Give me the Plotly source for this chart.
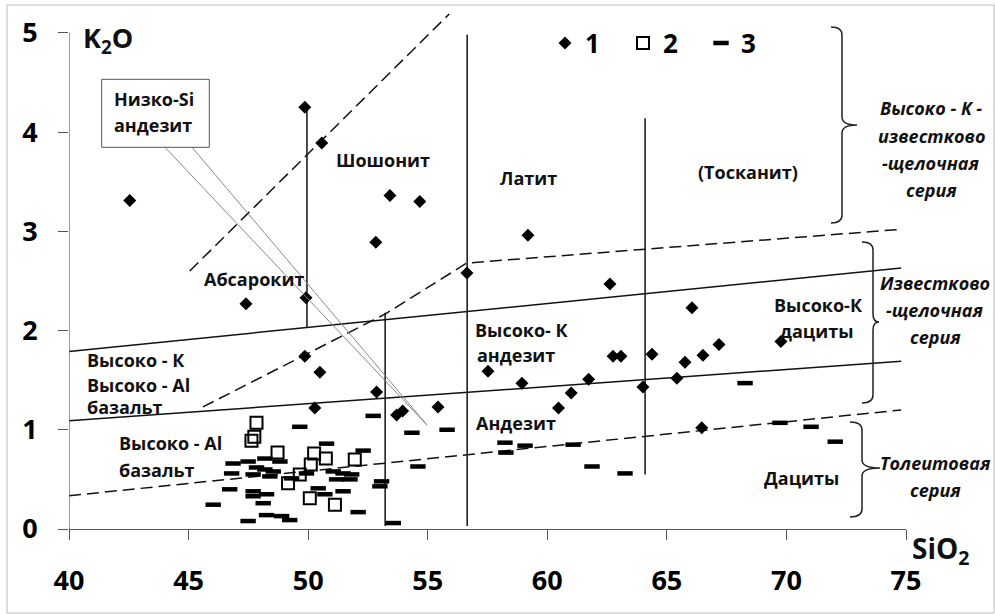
import plotly.graph_objects as go

# ---------------- data ----------------
s1_x = [42.54, 49.86, 50.57, 53.42, 54.67, 52.83, 59.19, 56.64, 62.62, 47.40,
        49.91, 49.86, 50.49, 50.28, 52.86, 53.70, 53.95, 55.43, 57.52, 58.94,
        60.47, 61.00, 61.73, 62.75, 63.08, 64.38, 64.00, 65.42, 65.76, 66.05,
        66.51, 67.18, 69.77, 66.46]
s1_y = [3.31, 4.25, 3.89, 3.36, 3.30, 2.89, 2.96, 2.58, 2.47, 2.27,
        2.33, 1.74, 1.58, 1.22, 1.38, 1.15, 1.19, 1.23, 1.59, 1.47,
        1.22, 1.37, 1.51, 1.74, 1.74, 1.76, 1.43, 1.52, 1.68, 2.23,
        1.75, 1.86, 1.89, 1.02]

s2_x = [47.84, 47.63, 47.75, 48.72, 50.25, 50.74, 50.11, 51.95, 49.16, 50.07, 51.12, 49.65]
s2_y = [1.07, 0.89, 0.93, 0.77, 0.76, 0.71, 0.65, 0.70, 0.46, 0.31, 0.245, 0.55]

s3_x = [49.65, 52.72, 50.77, 52.30, 48.19, 48.82, 47.49, 46.86, 47.84, 48.19,
        48.54, 46.80, 47.70, 48.40, 49.31, 49.93, 51.05, 51.46, 51.82, 51.19,
        51.75, 50.42, 51.46, 46.72, 47.70, 47.70, 48.26, 48.12, 46.03, 48.26,
        48.89, 47.49, 49.23, 52.09, 53.00, 53.07, 53.56, 50.70,
        54.34, 55.81, 58.23, 58.27, 59.07, 61.08, 54.59, 61.87, 63.25,
        68.27, 69.73, 71.03, 72.04]
s3_y = [1.03, 1.14, 0.86, 0.79, 0.71, 0.68, 0.68, 0.66, 0.62, 0.60,
        0.58, 0.56, 0.55, 0.53, 0.51, 0.56, 0.58, 0.56, 0.55, 0.50,
        0.50, 0.41, 0.38, 0.40, 0.38, 0.33, 0.35, 0.26, 0.245, 0.14,
        0.13, 0.08, 0.09, 0.17, 0.43, 0.48, 0.06, 0.35,
        0.97, 1.00, 0.87, 0.77, 0.84, 0.85, 0.63, 0.63, 0.56,
        1.47, 1.07, 1.03, 0.88]

# classification boundaries
solid_upper_x = [40, 74.8]; solid_upper_y = [1.79, 2.63]
solid_lower_x = [40, 74.8]; solid_lower_y = [1.09, 1.69]
dash_lower_x = [40, 74.8]; dash_lower_y = [0.335, 1.20]
dash_mid_x = [45.6, 53.25, 56.63, 74.8]; dash_mid_y = [1.23, 2.17, 2.68, 3.02]
dash_sho_x = [45.05, 55.9]; dash_sho_y = [2.60, 5.19]
v50_x = [49.95, 49.95]; v50_y = [2.03, 4.25]
v53_x = [53.22, 53.22]; v53_y = [0.03, 2.18]
v56_x = [56.65, 56.65]; v56_y = [0.03, 4.98]
v64_x = [64.09, 64.09]; v64_y = [0.55, 4.14]

x_ticks = [40, 45, 50, 55, 60, 65, 70, 75]
y_ticks = [0, 1, 2, 3, 4, 5]
legend_names = ["1", "2", "3"]

# ---------------- geometry helpers ----------------
W, H = 995, 614
ML, MR, MT, MB = 69, 89, 13, 85
X0, X1, Y0, Y1 = 40, 75, 0, 5.2
PW, PH = W - ML - MR, H - MT - MB


def dx(px):
    return X0 + (px - ML) / PW * (X1 - X0)


def dy(py):
    return Y0 + (H - MB - py) / PH * (Y1 - Y0)


def pxp(px):
    return (px - ML) / PW


def pyp(py):
    return (H - MB - py) / PH


FONT = "Open Sans"
fig = go.Figure()

line_solid = dict(color="#111", width=1.5)
line_dash = dict(color="#111", width=1.5, dash="12px,6px")
for xs, ys, ln in [
    (solid_upper_x, solid_upper_y, line_solid),
    (solid_lower_x, solid_lower_y, line_solid),
    (dash_lower_x, dash_lower_y, line_dash),
    (dash_mid_x, dash_mid_y, line_dash),
    (dash_sho_x, dash_sho_y, line_dash),
    (v50_x, v50_y, line_solid),
    (v53_x, v53_y, line_solid),
    (v56_x, v56_y, line_solid),
    (v64_x, v64_y, line_solid),
]:
    fig.add_trace(go.Scatter(x=xs, y=ys, mode="lines", line=ln,
                             showlegend=False, hoverinfo="skip"))

fig.add_trace(go.Scatter(x=s3_x, y=s3_y, mode="markers", name=legend_names[2],
                         marker=dict(symbol="line-ew", size=11, color="black",
                                     line=dict(color="black", width=4.5)),
                         legendrank=3))
fig.add_trace(go.Scatter(x=s2_x, y=s2_y, mode="markers", name=legend_names[1],
                         marker=dict(symbol="square-open", size=12, color="black",
                                     line=dict(color="black", width=2)),
                         legendrank=2))
fig.add_trace(go.Scatter(x=s1_x, y=s1_y, mode="markers", name=legend_names[0],
                         marker=dict(symbol="diamond", size=10, color="black",
                                     line=dict(width=0)),
                         legendrank=1))

shapes = []
# y axis line (only up to 5)
shapes.append(dict(type="line", xref="x", yref="y", x0=40, x1=40, y0=0, y1=5,
                   line=dict(color="#555", width=1.2)))


def path_px(cmds):
    out = []
    for c in cmds:
        if isinstance(c, str):
            out.append(c)
        else:
            out.append("%.4f,%.4f" % (dx(c[0]), dy(c[1])))
    return " ".join(out)


def brace(x, top, bot, mid, left, right):
    return path_px(["M", (left, top), "Q", (x, top), (x, top + 8), "L", (x, mid - 8),
                    "Q", (x, mid), (right, mid), "Q", (x, mid), (x, mid + 8),
                    "L", (x, bot - 8), "Q", (x, bot), (left, bot)])


for b in [(842, 27, 223, 125, 831, 857), (873, 242, 403, 322, 862, 879),
          (862, 422, 517, 468, 850, 880)]:
    shapes.append(dict(type="path", xref="x", yref="y", path=brace(*b),
                       line=dict(color="#222", width=1.5)))

# callout pointer and box
shapes.append(dict(type="path", xref="x", yref="y",
                   path=path_px(["M", (165, 147.3), "L", (427, 425), "L", (192, 147.3)]),
                   line=dict(color="#888", width=1)))
shapes.append(dict(type="rect", xref="x", yref="y", x0=dx(101.7), x1=dx(209.3),
                   y0=dy(147.3), y1=dy(79.3), fillcolor="white",
                   line=dict(color="#555", width=1)))
# outer frame
shapes.append(dict(type="rect", xref="paper", yref="paper", x0=pxp(7), x1=pxp(994),
                   y0=pyp(613), y1=pyp(5), line=dict(color="#bbb", width=1)))

ann = []


def label(text, px, py, size=18, anchor="center", bold=True, italic=False, color="#111"):
    ann.append(dict(text=text, xref="paper", yref="paper", x=pxp(px), y=pyp(py),
                    xanchor=anchor, yanchor="middle", showarrow=False,
                    font=dict(family=FONT, size=size, color=color,
                              weight="bold" if bold else "normal",
                              style="italic" if italic else "normal")))


label("Шошонит", 383, 160)
label("Латит", 528, 178)
label("(Тосканит)", 748, 172)
label("Абсарокит", 254, 279)
label("Высоко- К", 473, 330, anchor="left")
label("андезит", 475, 355, anchor="left")
label("Высоко-К", 818, 305)
label("дациты", 816, 331)
label("Высоко - К", 85, 360, anchor="left")
label("Высоко - Al", 85, 385, anchor="left")
label("базальт", 85, 407, anchor="left")
label("Высоко - Al", 117, 443, anchor="left")
label("базальт", 117, 470, anchor="left")
label("Андезит", 516, 423)
label("Дациты", 801, 478)
label("Низко-Si", 112, 99, anchor="left")
label("андезит", 112, 125, anchor="left")

for t, yy in [("Высоко - К -", 108), ("известково", 136), ("-щелочная", 163), ("серия", 190)]:
    label(t, 931, yy, size=18, italic=True)
for t, yy in [("Известково", 283), ("-щелочная", 310), ("серия", 337)]:
    label(t, 935, yy, size=18, italic=True)
for t, yy in [("Толеитовая", 463), ("серия", 490)]:
    label(t, 936, yy, size=18, italic=True)

label("K<sub>2</sub>O", 81, 40, size=27, anchor="left")
label("SiO<sub>2</sub>", 910, 550, size=28, anchor="left")

tickfont = dict(family=FONT, size=27, color="black", weight="bold")
fig.update_layout(
    width=W, height=H,
    margin=dict(l=ML, r=MR, t=MT, b=MB, autoexpand=False),
    paper_bgcolor="white", plot_bgcolor="white",
    xaxis=dict(range=[X0, X1], tickvals=x_ticks, ticks="outside", ticklen=10,
               tickcolor="#555", showline=True, linecolor="#555", linewidth=1.2,
               showgrid=False, zeroline=False, tickfont=tickfont, automargin=False,
               ticklabelstandoff=17, fixedrange=True),
    yaxis=dict(range=[Y0, Y1], tickvals=y_ticks, ticks="outside", ticklen=10,
               tickcolor="#555", showline=False, showgrid=False, zeroline=False,
               tickfont=tickfont, ticklabelstandoff=15, fixedrange=True,
               automargin=False),
    shapes=shapes,
    annotations=ann,
    showlegend=True,
    legend=dict(orientation="h", x=pxp(545), y=pyp(43), xanchor="left",
                yanchor="middle", font=dict(family=FONT, size=26, color="black",
                                            weight="bold"),
                entrywidth=33, entrywidthmode="pixels", bgcolor="rgba(0,0,0,0)",
                traceorder="normal"),
)

fig.write_html("out.html", config={"displayModeBar": False},
               post_script="document.body.style.margin='0px';")
